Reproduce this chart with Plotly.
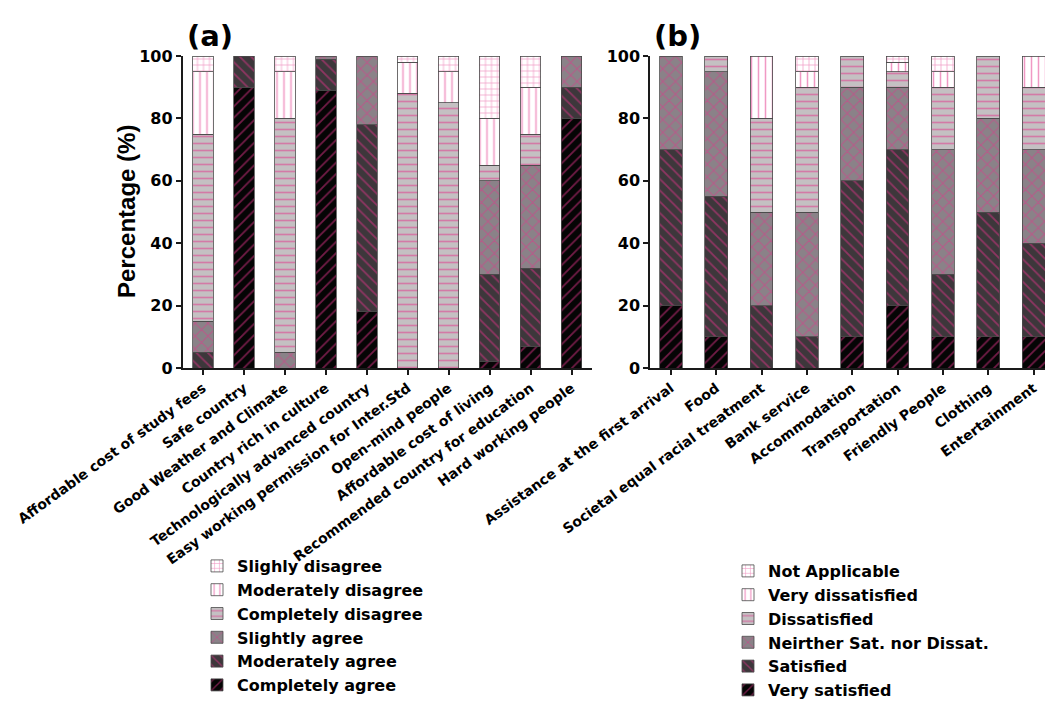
import plotly.graph_objects as go

# ---- Panel (a): motives for choosing the country ----
cats_a = [
    "Affordable cost of study fees",
    "Safe country",
    "Good Weather and Climate",
    "Country rich in culture",
    "Technologically advanced country",
    "Easy working permission for Inter.Std",
    "Open-mind people",
    "Affordable cost of living",
    "Recommended country for education",
    "Hard working people",
]
completely_agree = [0, 90, 0, 89, 18, 0, 0, 2, 7, 80]
moderately_agree = [5, 10, 0, 10, 60, 0, 0, 28, 25, 10]
slightly_agree = [10, 0, 5, 1, 22, 0, 0, 30, 33, 10]
completely_disagree = [60, 0, 75, 0, 0, 88, 85, 5, 10, 0]
moderately_disagree = [20, 0, 15, 0, 0, 10, 10, 15, 15, 0]
slighly_disagree = [5, 0, 5, 0, 0, 2, 5, 20, 10, 0]

series_a = [
    ("Completely agree", completely_agree),
    ("Moderately agree", moderately_agree),
    ("Slightly agree", slightly_agree),
    ("Completely disagree", completely_disagree),
    ("Moderately disagree", moderately_disagree),
    ("Slighly disagree", slighly_disagree),
]

# ---- Panel (b): satisfaction with living conditions ----
cats_b = [
    "Assistance at the first arrival",
    "Food",
    "Societal equal racial treatment",
    "Bank service",
    "Accommodation",
    "Transportation",
    "Friendly People",
    "Clothing",
    "Entertainment",
]
very_satisfied = [20, 10, 0, 0, 10, 20, 10, 10, 10]
satisfied = [50, 45, 20, 10, 50, 50, 20, 40, 30]
neither = [30, 40, 30, 40, 30, 20, 40, 30, 30]
dissatisfied = [0, 5, 30, 40, 10, 5, 20, 20, 20]
very_dissatisfied = [0, 0, 20, 5, 0, 3, 5, 0, 10]
not_applicable = [0, 0, 0, 5, 0, 2, 5, 0, 0]

series_b = [
    ("Very satisfied", very_satisfied),
    ("Satisfied", satisfied),
    ("Neirther Sat. nor Dissat.", neither),
    ("Dissatisfied", dissatisfied),
    ("Very dissatisfied", very_dissatisfied),
    ("Not Applicable", not_applicable),
]

# Fill style per stack level (bottom to top): background colour, hatch shape, hatch size, line weight
PINK = "#e2338a"
level_styles = [
    ("#050505", "/", 8, 0.22),
    ("#3d373b", "\\", 8, 0.22),
    ("#8a8288", "x", 9, 0.22),
    ("#c4c0c2", "-", 7, 0.24),
    ("#ffffff", "|", 7, 0.22),
    ("#ffffff", "+", 6, 0.22),
]

FONT = "DejaVu Sans"

fig = go.Figure()


def add_panel(categories, series, xaxis, yaxis, legend):
    for (name, values), (bg, shape, size, solid) in zip(series, level_styles):
        fig.add_trace(go.Bar(
            x=categories,
            y=[v if v else None for v in values],
            name=name,
            xaxis=xaxis,
            yaxis=yaxis,
            legend=legend,
            legendgroup=legend + name,
            width=0.5,
            marker=dict(
                color=bg,
                line=dict(color="#4a4a4a", width=0.8),
                pattern=dict(shape=shape, fgcolor=PINK, bgcolor=bg, size=size,
                             solidity=solid, fillmode="overlay"),
            ),
            hoverinfo="x+y+name",
        ))


add_panel(cats_a, series_a, "x", "y", "legend")
add_panel(cats_b, series_b, "x2", "y2", "legend2")

tick_font = dict(family=FONT, size=16, color="black", weight="bold")
xtick_font = dict(family=FONT, size=14, color="black", weight="bold")
axis_common = dict(showline=True, linecolor="#1a1a1a", linewidth=1.5,
                   ticks="outside", ticklen=5, tickwidth=1.5, tickcolor="#1a1a1a",
                   showgrid=False, zeroline=False, automargin=False)

W, H = 1045, 702
legend_font = dict(family=FONT, size=16, color="black", weight="bold")

fig.update_layout(
    template="none",
    width=W, height=H,
    margin=dict(l=0, r=0, t=56, b=334, autoexpand=False),
    paper_bgcolor="white", plot_bgcolor="white",
    barmode="stack",
    showlegend=True,
    xaxis=dict(domain=[182.5 / W, 592 / W], range=[-0.5, 9.5],
               tickangle=-36, tickfont=xtick_font, anchor="y", **axis_common),
    yaxis=dict(domain=[0, 1], range=[0, 100], tickvals=[0, 20, 40, 60, 80, 100],
               tickfont=tick_font, anchor="x", **axis_common),
    xaxis2=dict(domain=[650 / W, 1.0], range=[-0.46, 8.25],
                tickangle=-36, tickfont=xtick_font, anchor="y2", **axis_common),
    yaxis2=dict(domain=[0, 1], range=[0, 100], tickvals=[0, 20, 40, 60, 80, 100],
                tickfont=tick_font, anchor="x2", **axis_common),
    legend=dict(x=197 / W, y=(368 - 549) / 312, xanchor="left", yanchor="top",
                traceorder="reversed", font=legend_font, bgcolor="rgba(0,0,0,0)",
                tracegroupgap=2),
    legend2=dict(x=728 / W, y=(368 - 554) / 312, xanchor="left", yanchor="top",
                 traceorder="reversed", font=legend_font, bgcolor="rgba(0,0,0,0)",
                 tracegroupgap=2.5),
    annotations=[
        dict(text="(a)", x=210 / W, y=(368 - 36) / 312, xref="paper", yref="paper",
             xanchor="center", yanchor="middle", showarrow=False,
             font=dict(family=FONT, size=29, color="black", weight="bold")),
        dict(text="(b)", x=677 / W, y=(368 - 36) / 312, xref="paper", yref="paper",
             xanchor="center", yanchor="middle", showarrow=False,
             font=dict(family=FONT, size=29, color="black", weight="bold")),
        dict(text="Percentage (%)", x=126 / W, y=0.5, xref="paper", yref="paper",
             xanchor="center", yanchor="middle", textangle=-90, showarrow=False,
             font=dict(family="Liberation Sans", size=24, color="black", weight="bold")),
    ],
)

fig.write_html("out.html")
